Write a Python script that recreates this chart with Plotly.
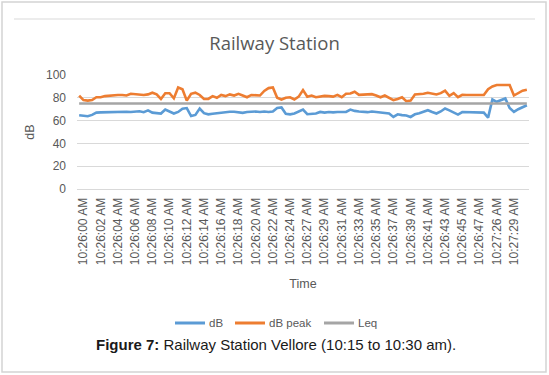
import plotly.graph_objects as go

db = [64.7, 64.2, 63.8, 65.0, 67.0, 67.2, 67.4, 67.6, 67.8, 68.0,
      68.0, 67.8, 67.6, 67.8, 68.2, 67.4, 69.0, 67.0, 66.8, 66.2,
      69.7, 67.6, 66.2, 67.6, 70.5, 71.0, 64.0, 65.0, 70.6, 66.5,
      65.5, 66.0, 66.5, 67.0, 67.5, 67.7, 67.8, 67.5, 66.8, 67.5,
      68.0, 68.0, 67.6, 68.0, 67.5, 68.0, 71.0, 71.5, 66.0, 65.5,
      66.2, 68.0, 69.7, 65.6, 66.0, 66.2, 67.6, 67.0, 67.6, 67.2,
      67.6, 67.5, 67.6, 69.7, 68.5, 68.0, 67.6, 67.4, 68.0, 67.5,
      67.2, 66.5, 66.2, 63.2, 65.5, 64.8, 64.5, 63.2, 65.5, 66.5,
      68.0, 69.1, 67.5, 66.2, 68.0, 70.6, 69.0, 67.5, 65.3, 67.5,
      67.5, 67.6, 67.6, 67.5, 67.0, 62.6, 78.5, 76.5, 78.0, 79.4,
      71.0, 67.6, 70.0, 72.0, 73.5]

db_peak = [82.0, 78.0, 77.5, 78.0, 80.5, 80.5, 81.5, 82.0, 82.5, 82.5,
           82.5, 82.0, 83.5, 83.0, 83.0, 82.5, 83.0, 84.5, 83.0, 79.0,
           84.0, 84.0, 79.5, 89.0, 87.5, 77.5, 83.5, 84.5, 82.5, 79.0,
           79.0, 81.5, 80.0, 82.5, 81.5, 83.0, 82.0, 83.5, 82.0, 80.5,
           82.5, 82.5, 82.0, 86.0, 88.5, 89.0, 80.0, 78.5, 80.0, 80.5,
           78.5, 81.0, 86.8, 81.0, 82.0, 80.5, 81.0, 81.7, 81.5, 81.0,
           82.6, 80.5, 83.5, 83.8, 85.3, 82.6, 82.8, 82.9, 83.2, 82.0,
           80.5, 82.0, 80.0, 78.0, 79.0, 80.5, 77.0, 77.5, 82.9, 82.9,
           83.5, 84.4, 83.5, 82.9, 84.1, 86.2, 81.7, 84.1, 80.5, 82.6,
           82.4, 82.5, 82.5, 82.6, 82.4, 87.6, 90.0, 91.2, 91.2, 91.2,
           91.2, 82.0, 84.0, 86.2, 87.0]

leq_value = 75.0
n_points = len(db)
leq = [leq_value] * n_points
x_idx = list(range(n_points))

series_names = ["dB", "dB peak", "Leq"]
series_colors = ["#5B9BD5", "#ED7D31", "#A5A5A5"]

tick_text = ["10:26:00 AM", "10:26:02 AM", "10:26:04 AM", "10:26:06 AM",
             "10:26:08 AM", "10:26:10 AM", "10:26:12 AM", "10:26:14 AM",
             "10:26:16 AM", "10:26:18 AM", "10:26:20 AM", "10:26:22 AM",
             "10:26:24 AM", "10:26:27 AM", "10:26:29 AM", "10:26:31 AM",
             "10:26:33 AM", "10:26:35 AM", "10:26:37 AM", "10:26:39 AM",
             "10:26:41 AM", "10:26:43 AM", "10:26:45 AM", "10:26:47 AM",
             "10:27:26 AM", "10:27:29 AM"]
tick_vals = list(range(1, 1 + 4 * len(tick_text), 4))

FONT = "Liberation Sans"
GRAY_TXT = "#595959"

L, R, T, B = 77, 20, 75, 186
PW, PH = 549 - L - R, 375 - T - B


def px_x(x):
    return (x - L) / PW


def px_y(y):
    return (375 - B - y) / PH


fig = go.Figure()
for name, vals, col in zip(series_names, [db, db_peak, leq], series_colors):
    fig.add_trace(go.Scatter(x=x_idx, y=vals, mode="lines", name=name,
                             showlegend=False,
                             line=dict(color=col, width=2.6)))

fig.update_layout(
    width=549, height=375,
    margin=dict(l=L, r=R, t=T, b=B, autoexpand=False),
    paper_bgcolor="white", plot_bgcolor="white",
    title=dict(text="Railway Station", x=0.5, xanchor="center",
               y=1 - 44 / 375, yanchor="middle", yref="container",
               font=dict(family="Open Sans", size=18.5, color=GRAY_TXT)),
    showlegend=False,
    xaxis=dict(range=[-0.5, n_points - 0.5], tickmode="array", tickvals=tick_vals,
               ticktext=tick_text, tickangle=-90, showgrid=False, automargin=False,
               showline=True, linecolor="#D9D9D9", linewidth=1, ticks="",
               tickfont=dict(family=FONT, size=12, color=GRAY_TXT),
               ticklabelstandoff=3,
               title=dict(text="Time", font=dict(family=FONT, size=12.5, color=GRAY_TXT),
                          standoff=15),
               zeroline=False),
    yaxis=dict(range=[0, 100], dtick=20, showgrid=True, gridcolor="#D9D9D9",
               gridwidth=1, zeroline=False, ticks="", automargin=False,
               ticklabelstandoff=10,
               tickfont=dict(family=FONT, size=12, color=GRAY_TXT),
               title=dict(text="dB", font=dict(family=FONT, size=12.5, color=GRAY_TXT),
                          standoff=8)),
)

# legend drawn as short line swatches with labels (Excel style)
legend_y = px_y(323)
legend_x0 = [175, 235, 324]
for x0, name, col in zip(legend_x0, series_names, series_colors):
    fig.add_shape(type="line", xref="paper", yref="paper",
                  x0=px_x(x0), x1=px_x(x0 + 30), y0=legend_y, y1=legend_y,
                  line=dict(color=col, width=3))
    fig.add_annotation(text=name, xref="paper", yref="paper",
                       x=px_x(x0 + 32), y=legend_y, xanchor="left", yanchor="middle",
                       showarrow=False,
                       font=dict(family=FONT, size=11.5, color=GRAY_TXT))

fig.add_annotation(
    text="<b>Figure 7:</b> Railway Station Vellore (10:15 to 10:30 am).",
    xref="paper", yref="paper", x=px_x(275.5), y=px_y(344),
    xanchor="center", yanchor="middle", showarrow=False,
    font=dict(family="Liberation Sans", size=15, color="#1a1a1a"))

fig.add_shape(type="rect", xref="paper", yref="paper",
              x0=px_x(2), x1=px_x(546), y0=px_y(372), y1=px_y(2),
              line=dict(color="#D4D4D4", width=1.5))
fig.add_shape(type="line", xref="paper", yref="paper",
              x0=px_x(14), x1=px_x(535), y0=px_y(19), y1=px_y(19),
              line=dict(color="#D9D9D9", width=1))

fig.write_html("out.html", config={"displayModeBar": False},
               post_script="document.body.style.margin='0';document.body.style.padding='0';")
